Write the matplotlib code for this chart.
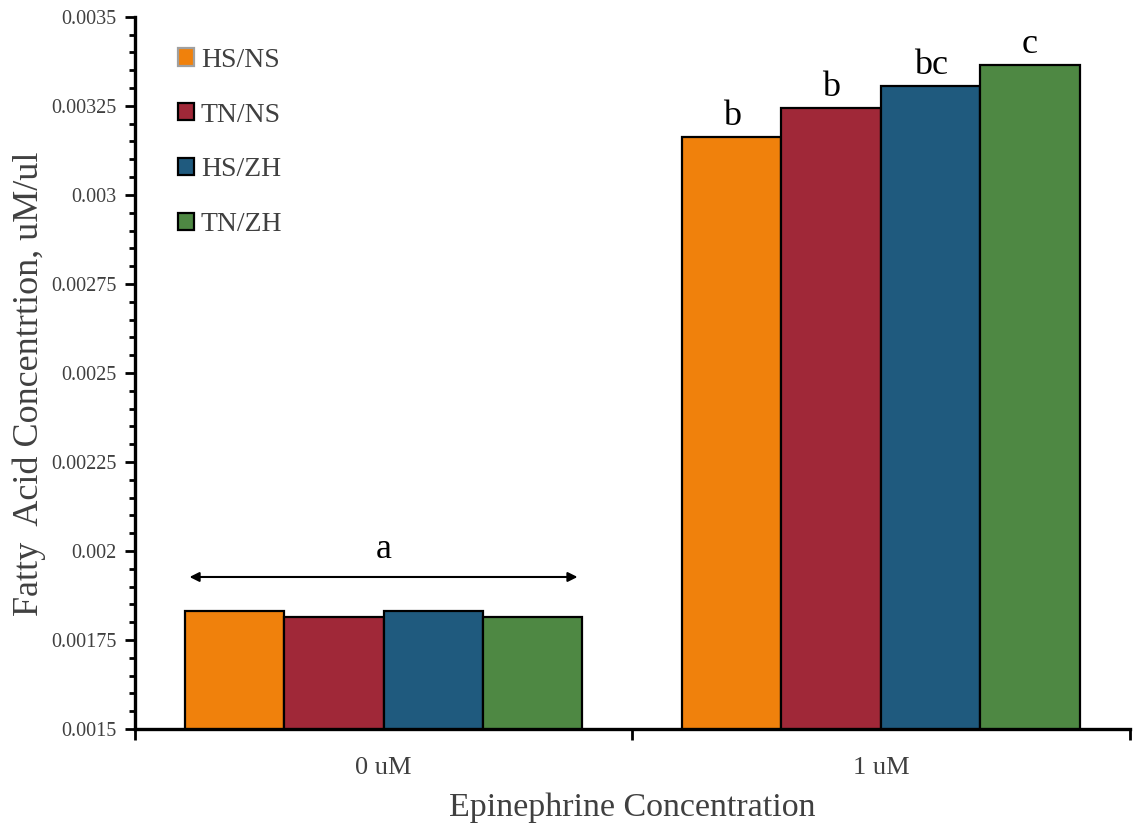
import matplotlib
matplotlib.use("Agg")
import matplotlib.pyplot as plt
import numpy as np

categories = ["0 uM", "1 uM"]
series = ["HS/NS", "TN/NS", "HS/ZH", "TN/ZH"]
values = {
    "HS/NS": [0.001831, 0.003163],
    "TN/NS": [0.001815, 0.003244],
    "HS/ZH": [0.001831, 0.003306],
    "TN/ZH": [0.001815, 0.003365],
}
letters_1uM = ["b", "b", "bc", "c"]
letter_0uM = "a"
yticks = [0.0015, 0.00175, 0.002, 0.00225, 0.0025, 0.00275, 0.003, 0.00325, 0.0035]
ytick_labels = ["0.0015", "0.00175", "0.002", "0.00225", "0.0025", "0.00275", "0.003", "0.00325", "0.0035"]
colors = ["#F0810C", "#A02838", "#1F5A7E", "#4E8843"]

plt.rcParams['font.family'] = ['Liberation Serif', 'DejaVu Serif']

fig = plt.figure(figsize=(11.33, 8.31), dpi=100)
ax = fig.add_axes([0.119, 0.1227, 0.878, 0.857])

x = np.arange(len(categories))
w = 0.2
offsets = [-0.3, -0.1, 0.1, 0.3]
for i, s in enumerate(series):
    ax.bar(x + offsets[i], values[s], w, bottom=0, color=colors[i],
           edgecolor="black", linewidth=1.6, label=s, zorder=2)

ax.set_ylim(0.0015, 0.0035)
ax.set_xlim(-0.5, 1.5)
ax.set_yticks(yticks)
ax.set_yticklabels(ytick_labels, fontsize=14.5, color="#404040")
ax.set_yticks(np.arange(0.0015, 0.0035001, 0.00005), minor=True)
ax.tick_params(axis="y", which="major", length=7, width=2, direction="out", pad=6)
ax.tick_params(axis="y", which="minor", length=4, width=2, direction="out")

ax.set_xticks(x)
ax.set_xticklabels(categories, fontsize=19, color="#404040")
ax.set_xticks([-0.5, 0.5, 1.5], minor=True)
ax.tick_params(axis="x", which="major", length=0, pad=20)
ax.tick_params(axis="x", which="minor", length=8, width=2, direction="out")

for sp in ["top", "right"]:
    ax.spines[sp].set_visible(False)
for sp in ["left", "bottom"]:
    ax.spines[sp].set_linewidth(2.4)
    ax.spines[sp].set_color("black")

ax.set_xlabel("Epinephrine Concentration", fontsize=24.5, color="#404040", labelpad=10)
ax.set_ylabel("Fatty  Acid Concentrtion, uM/ul", fontsize=26, color="#404040", labelpad=8)
ax.yaxis.set_label_coords(-0.089, 0.485)

# letters above 1 uM bars
for i, s in enumerate(series):
    ax.annotate(letters_1uM[i], (x[1] + offsets[i], values[s][1]),
                xytext=(0, 3), textcoords="offset points",
                ha="center", va="bottom", fontsize=26, color="black")

# arrow and letter over 0 uM group
arrow_y = max(values[s][0] for s in series) + 0.000096
ax.annotate("", xy=(x[0] + offsets[0] - 0.1 + 0.01, arrow_y),
            xytext=(x[0] + offsets[3] + 0.1 - 0.01, arrow_y),
            arrowprops=dict(arrowstyle="<|-|>", color="black", lw=1.5,
                            mutation_scale=14, shrinkA=0, shrinkB=0))
ax.text(x[0], arrow_y + 0.00003, letter_0uM, ha="center", va="bottom",
        fontsize=26, color="black")

leg = ax.legend(loc="upper left", bbox_to_anchor=(0.032, 0.972), frameon=False,
                fontsize=20, handlelength=0.58, handleheight=0.58,
                labelspacing=1.07, handletextpad=0.25, borderaxespad=0)
for t in leg.get_texts():
    t.set_color("#404040")
leg.legend_handles[0].set_edgecolor("#A0A0A0")

fig.savefig("out.png", dpi=100)
